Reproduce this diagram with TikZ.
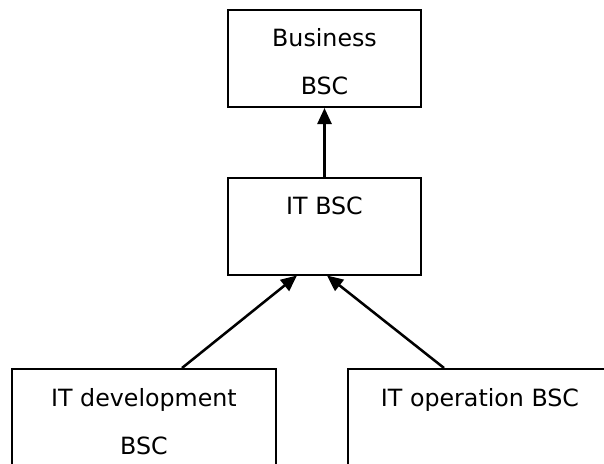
\documentclass[tikz,border=0pt]{standalone}
\usepackage{fontspec}
\setmainfont{DejaVu Sans}
\usetikzlibrary{arrows.meta,calc}
\newcommand{\topgap}{\rule{0pt}{19pt}}
\tikzset{
  bscbox/.style={draw, line width=1.5pt, minimum height=72.75pt, align=center,
    inner sep=0pt, font=\fontsize{17.8}{36}\selectfont},
  uparrow/.style={line width=1.9pt, -{Triangle[length=12pt,width=10.5pt]}}
}
\begin{document}
\begin{tikzpicture}[x=0.75pt,y=-0.75pt]
\clip (0,0) rectangle (604,464);
\fill[white] (0,0) rectangle (604,464);

\node[bscbox, minimum width=144.75pt] (business) at (324.5, 58.5) {\topgap Business\\BSC};
\node[bscbox, minimum width=144.75pt] (itbsc) at (324.5, 226) {\topgap IT BSC\\\mbox{}};

\node[bscbox, minimum width=198pt] (itdev) at (144, 417.5) {\topgap IT development\\BSC};
\node[bscbox, minimum width=198pt] (itop) at (480, 417.5) {\topgap IT operation BSC\\\mbox{}};

\draw[uparrow] (itbsc.north) -- (business.south);
\draw[uparrow] ($(itdev.north)+(38,0)$) -- ($(itbsc.south)+(-27.5,0)$);
\draw[uparrow] ($(itop.north)+(-36,0)$) -- ($(itbsc.south)+(2.5,0)$);
\end{tikzpicture}
\end{document}
